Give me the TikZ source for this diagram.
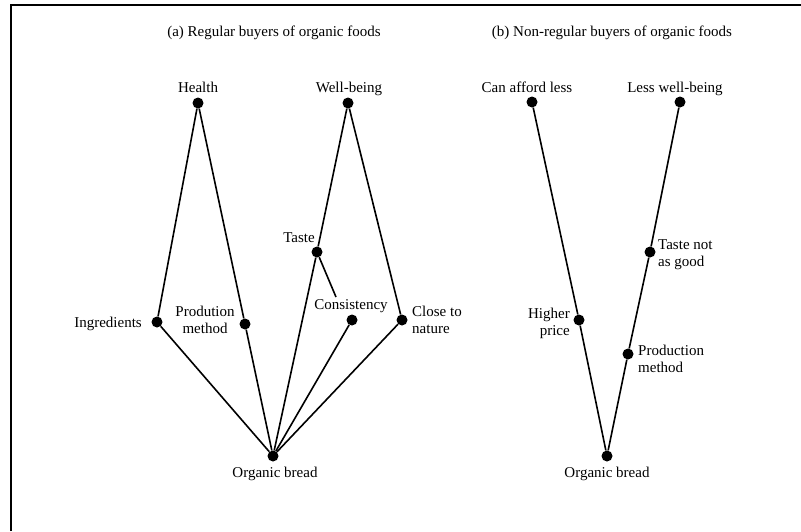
\documentclass[tikz,border=0pt]{standalone}
\usepackage{fontspec}
\setmainfont{Liberation Serif}
\begin{document}
\begin{tikzpicture}[x=1pt,y=-1pt,
  dot/.style={circle,fill=black,inner sep=0pt,minimum size=11pt},
  lbl/.style={inner sep=0pt,font=\fontsize{15}{17}\selectfont},
  link/.style={line width=1.6pt}]
\useasboundingbox (0,0) rectangle (801,531);
% frame
\draw[line width=1.5pt] (11,531) -- (11,5) -- (801,5);

% titles
\node[lbl,anchor=base] (ta) at (274,36) {(a) Regular buyers of organic foods};
\node[lbl,anchor=base] (tb) at (612,36) {(b) Non-regular buyers of organic foods};

% ---- (a) regular buyers ----
\node[dot] (health) at (198,103) {};
\node[dot] (well)   at (348,103) {};
\node[dot] (ingr)   at (157,322) {};
\node[dot] (prod)   at (245,324) {};
\node[dot] (taste)  at (317,252) {};
\node[dot] (cons)   at (352,320) {};
\node[dot] (close)  at (402,320) {};
\node[dot] (breadA) at (273,456) {};

\node[lbl,anchor=base] (lhealth) at (198,92) {Health};
\node[lbl,anchor=base] (lwell)   at (349,92) {Well-being};
\node[lbl,anchor=east] (lingr) at (142,324) {Ingredients};
\node[lbl,align=center] (lprod) at (205,320) {Prodution\\method};
\node[lbl,anchor=east] (ltaste) at (315,238) {Taste};
\node[lbl] (lcons) at (351,306) {Consistency};
\node[lbl,align=left,anchor=west] (lclose) at (412,320) {Close to\\nature};
\node[lbl] (lbreadA) at (275,474) {Organic bread};
\coordinate (consTop) at (336,297);

\draw[link] (health) -- (ingr) -- (breadA);
\draw[link] (health) -- (prod) -- (breadA);
\draw[link] (well) -- (taste) -- (breadA);
\draw[link] (taste) -- (consTop);
\draw[link] (cons) -- (breadA);
\draw[link] (well) -- (close) -- (breadA);

% ---- (b) non-regular buyers ----
\node[dot] (afford) at (532,102) {};
\node[dot] (lesswb) at (680,102) {};
\node[dot] (price)  at (579,320) {};
\node[dot] (tnag)   at (650,252) {};
\node[dot] (prodB)  at (628,354) {};
\node[dot] (breadB) at (607,456) {};

\node[lbl,anchor=base] (lafford) at (527,92) {Can afford less};
\node[lbl,anchor=base] (llesswb) at (675,92) {Less well-being};
\node[lbl,align=right,anchor=east] (lprice) at (570,323) {Higher\\price};
\node[lbl,align=left,anchor=west] (ltnag) at (658,255) {Taste not\\as good};
\node[lbl,align=left,anchor=west] (lprodB) at (638,359) {Production\\method};
\node[lbl] (lbreadB) at (607,474) {Organic bread};

\draw[link] (afford) -- (price) -- (breadB);
\draw[link] (lesswb) -- (tnag) -- (prodB) -- (breadB);
\end{tikzpicture}
\end{document}
